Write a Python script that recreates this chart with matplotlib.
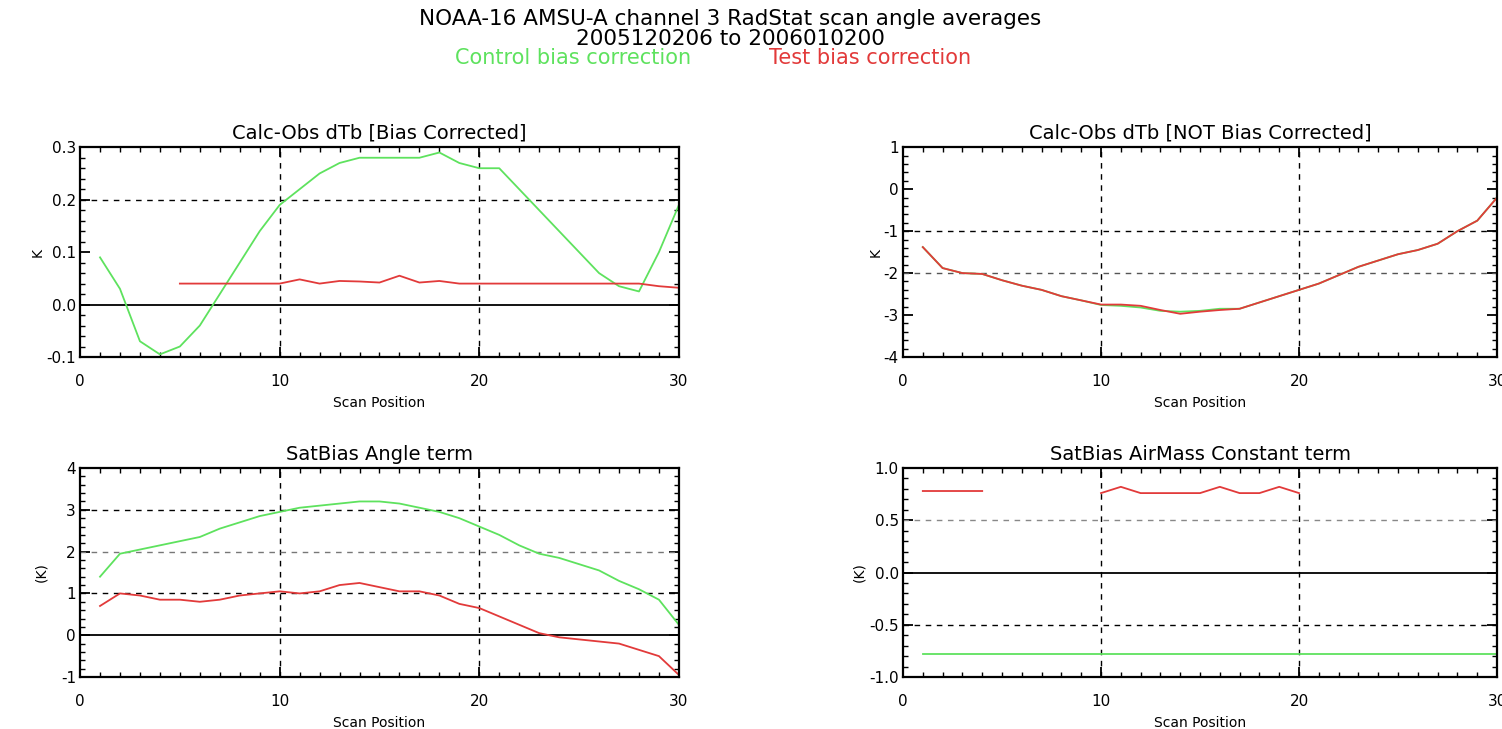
import numpy as np
import matplotlib
matplotlib.use("Agg")
import matplotlib.pyplot as plt
from matplotlib.ticker import MultipleLocator

# scan positions
scan = np.arange(1, 31)

# Calc-Obs dTb [Bias Corrected]
bc_control = [0.09, 0.03, -0.07, -0.095, -0.08, -0.04, 0.02, 0.08, 0.14, 0.19,
              0.22, 0.25, 0.27, 0.28, 0.28, 0.28, 0.28, 0.29, 0.27, 0.26,
              0.26, 0.22, 0.18, 0.14, 0.10, 0.06, 0.035, 0.025, 0.10, 0.19]
bc_test = [0.04, np.nan, np.nan, np.nan, 0.04, 0.04, 0.04, 0.04, 0.04, 0.04,
           0.048, 0.04, 0.045, 0.044, 0.042, 0.055, 0.042, 0.045, 0.04, 0.04,
           0.04, 0.04, 0.04, 0.04, 0.04, 0.04, 0.04, 0.04, 0.035, 0.032]

# Calc-Obs dTb [NOT Bias Corrected]
nbc_control = [-1.38, -1.88, -2.0, -2.02, -2.17, -2.3, -2.4, -2.55, -2.65, -2.76,
               -2.78, -2.82, -2.9, -2.92, -2.9, -2.85, -2.85, -2.7, -2.55, -2.4,
               -2.25, -2.05, -1.85, -1.7, -1.55, -1.45, -1.3, -1.0, -0.75, -0.2]
nbc_test = [-1.38, -1.88, -2.0, -2.02, -2.17, -2.3, -2.4, -2.55, -2.65, -2.75,
            -2.75, -2.78, -2.88, -2.97, -2.92, -2.88, -2.85, -2.7, -2.55, -2.4,
            -2.25, -2.05, -1.85, -1.7, -1.55, -1.45, -1.3, -1.0, -0.75, -0.2]

# SatBias Angle term
ang_control = [1.4, 1.95, 2.05, 2.15, 2.25, 2.35, 2.55, 2.7, 2.85, 2.95,
               3.05, 3.1, 3.15, 3.2, 3.2, 3.15, 3.05, 2.95, 2.8, 2.6,
               2.4, 2.15, 1.95, 1.85, 1.7, 1.55, 1.3, 1.1, 0.85, 0.25]
ang_test = [0.7, 1.0, 0.95, 0.85, 0.85, 0.8, 0.85, 0.95, 1.0, 1.05,
            1.0, 1.05, 1.2, 1.25, 1.15, 1.05, 1.05, 0.95, 0.75, 0.65,
            0.45, 0.25, 0.05, -0.05, -0.1, -0.15, -0.2, -0.35, -0.5, -0.95]

# SatBias AirMass Constant term
am_control = [-0.78] * 30
am_test = [0.78, 0.78, 0.78, 0.78, np.nan, np.nan, np.nan, np.nan, np.nan, 0.76,
           0.82, 0.76, 0.76, 0.76, 0.76, 0.82, 0.76, 0.76, 0.82, 0.76,
           np.nan, np.nan, np.nan, np.nan, np.nan, np.nan, np.nan, np.nan, np.nan, np.nan]

green = '#5ee25e'
red = '#e23a3a'

plt.rcParams['font.family'] = ['DejaVu Sans']
fig = plt.figure(figsize=(15.02, 7.29), dpi=100)

fig.text(0.486, 0.974, "NOAA-16 AMSU-A channel 3 RadStat scan angle averages",
         ha='center', va='center', fontsize=15.5)
fig.text(0.486, 0.947, "2005120206 to 2006010200", ha='center', va='center', fontsize=15.5)
fig.text(0.3815, 0.920, "Control bias correction", ha='center', va='center',
         fontsize=15, color=green)
fig.text(0.579, 0.920, "Test bias correction", ha='center', va='center',
         fontsize=15, color=red)

# (rect, title, ylabel, ylabel pad, control, test, ylim, major, minor, dashed levels, zero line, fmt)
panels = [
    ([0.0533, 0.5103, 0.3987, 0.2877], "Calc-Obs dTb [Bias Corrected]", "K", 1,
     bc_control, bc_test, (-0.1, 0.3), 0.1, 0.02, {0.2: 'black'}, True, "%.1f"),
    ([0.6012, 0.5103, 0.3955, 0.2877], "Calc-Obs dTb [NOT Bias Corrected]", "K", 1,
     nbc_control, nbc_test, (-4, 1), 1, 0.2, {-1: 'black', -2: '#555555'}, False, "%d"),
    ([0.0533, 0.0713, 0.3987, 0.2867], "SatBias Angle term", "(K)", 9,
     ang_control, ang_test, (-1, 4), 1, 0.2, {1: 'black', 2: '#777777', 3: 'black'}, True, "%d"),
    ([0.6012, 0.0713, 0.3955, 0.2867], "SatBias AirMass Constant term", "(K)", 2,
     am_control, am_test, (-1, 1), 0.5, 0.1, {0.5: '#888888', -0.5: 'black'}, True, "%.1f"),
]

for rect, title, ylab, ypad, ctrl, test, ylim, major, minor, hlines, zero, fmt in panels:
    ax = fig.add_axes(rect)
    ax.set_xlim(0, 30)
    ax.set_ylim(*ylim)
    for v in [10, 20]:
        ax.axvline(v, color='black', lw=1.0, ls=(0, (4, 4)))
    for h, c in hlines.items():
        ax.axhline(h, color=c, lw=1.0, ls=(0, (4, 4)))
    if zero:
        ax.axhline(0, color='black', lw=1.3)
    ax.plot(scan, ctrl, color=green, lw=1.3)
    ax.plot(scan, test, color=red, lw=1.3)
    ax.set_title(title, fontsize=14, pad=6)
    ax.set_xlabel("Scan Position", fontsize=10, labelpad=5)
    ax.set_ylabel(ylab, fontsize=10, labelpad=ypad)
    ax.xaxis.set_major_locator(MultipleLocator(10))
    ax.xaxis.set_minor_locator(MultipleLocator(1))
    ax.yaxis.set_major_locator(MultipleLocator(major))
    ax.yaxis.set_minor_locator(MultipleLocator(minor))
    ax.yaxis.set_major_formatter(plt.FormatStrFormatter(fmt))
    ax.tick_params(which='both', direction='in', top=True, right=True, labelsize=11)
    ax.tick_params(which='major', length=7, width=1.3)
    ax.tick_params(which='minor', length=3.5, width=1.0)
    ax.tick_params(axis='x', pad=12)
    ax.tick_params(axis='y', pad=3)
    for s in ax.spines.values():
        s.set_linewidth(1.6)

fig.savefig("out.png", dpi=100)
